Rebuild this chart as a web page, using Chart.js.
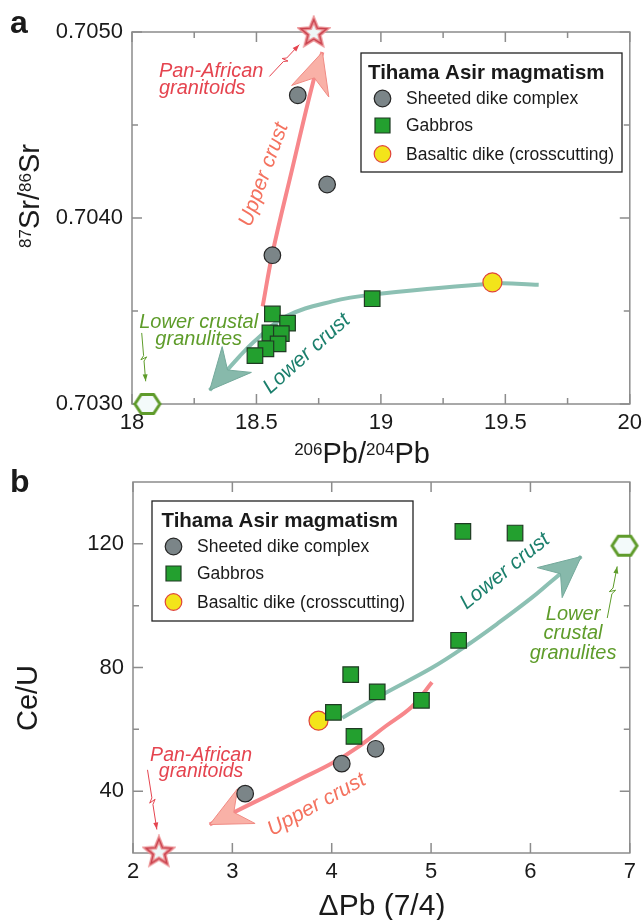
<!DOCTYPE html>
<html>
<head>
<meta charset="utf-8">
<script src="https://cdn.jsdelivr.net/npm/chart.js@4.4.1/dist/chart.umd.min.js"></script>
<style>
  html, body { margin: 0; padding: 0; background: #fff; }
  body { position: relative; width: 642px; height: 920px; overflow: hidden; }
  canvas { display: block; position: absolute; left: 0; }
  #chartA { top: 0; }
  #chartB { top: 460px; }
</style>
</head>
<body>
<canvas id="chartA" width="642" height="480"></canvas>
<canvas id="chartB" width="642" height="460"></canvas>
<script>
// ---- panel a : 87Sr/86Sr vs 206Pb/204Pb ----
var dikeA = [[18.666, 0.70466], [18.784, 0.70418], [18.564, 0.70380]]
var gabbroA = [[18.965, 0.703566], [18.564, 0.703484], [18.625, 0.703435], [18.554, 0.703382],
               [18.600, 0.703378], [18.587, 0.703323], [18.538, 0.703297], [18.494, 0.703260]]
var basaltA = [[19.448, 0.703654]]
var granitoidA = [[18.73, 0.70500]]
var granuliteA = [[18.062, 0.70300]]
var upperCrustA = [[18.525, 0.703525], [18.564, 0.703808], [18.643, 0.704260], [18.728, 0.704733], [18.765, 0.704892]]
var lowerCrustA = [[19.634, 0.703641], [19.448, 0.703647], [18.964, 0.703588], [18.805, 0.703552],
                   [18.619, 0.703471], [18.499, 0.703346], [18.432, 0.703256], [18.312, 0.703074]]
var xTicksA = [18, 18.5, 19, 19.5, 20]
var xTickLabelsA = ['18', '18.5', '19', '19.5', '20']
var xMinorA = [18.25, 18.75, 19.25, 19.75]
var yTicksA = [0.703, 0.704, 0.705]
var yTickLabelsA = ['0.7030', '0.7040', '0.7050']
var yMinorA = [0.7035, 0.7045]

// ---- panel b : Ce/U vs delta Pb (7/4) ----
var dikeB = [[3.129, 39.2], [4.101, 48.9], [4.442, 53.7]]
var gabbroB = [[5.320, 124.0], [5.845, 123.5], [5.277, 88.8], [4.191, 77.7],
               [4.458, 72.1], [4.903, 69.4], [4.017, 65.5], [4.224, 57.7]]
var basaltB = [[3.867, 62.8]]
var granitoidB = [[2.261, 20.5]]
var granuliteB = [[6.947, 119.4]]
var upperCrustB = [[5.009, 75.2], [4.809, 67.4], [4.542, 61.0], [4.275, 54.5], [4.007, 49.1],
                   [3.673, 43.7], [3.340, 38.3], [3.105, 34.6], [2.772, 29.2]]
var lowerCrustB = [[4.107, 63.7], [4.508, 71.2], [5.009, 79.9], [5.344, 86.8], [5.677, 94.4],
                   [6.011, 102.5], [6.211, 107.9], [6.512, 115.9]]
var xTicksB = [2, 3, 4, 5, 6, 7]
var xTickLabelsB = ['2', '3', '4', '5', '6', '7']
var xMinorB = []
var yTicksB = [40, 80, 120]
var yTickLabelsB = ['40', '80', '120']
var yMinorB = [60, 100]

var keyTitle = 'Tihama Asir magmatism'
var FONT = '"Liberation Sans", Arial, sans-serif'

function toXY(arr) {
  return arr.map(function(p) { return {x: p[0], y: p[1]} })
}

function labelFor(v, vals, labels) {
  for (var i = 0; i < vals.length; i++) {
    if (Math.abs(v - vals[i]) < 1e-9) return labels[i]
  }
  return ''
}

function starImage() {
  var c = document.createElement('canvas')
  c.width = 34; c.height = 34
  var g = c.getContext('2d')
  g.beginPath()
  for (var i = 0; i < 10; i++) {
    var r = i % 2 ? 6 : 13.5
    var a = -Math.PI / 2 + i * Math.PI / 5
    g.lineTo(17 + r * Math.cos(a), 18 + r * Math.sin(a))
  }
  g.closePath()
  g.fillStyle = '#eef7f7'
  g.fill()
  g.strokeStyle = '#ec9497'; g.lineWidth = 4; g.stroke()
  g.strokeStyle = '#c9424e'; g.lineWidth = 1.4; g.stroke()
  return c
}

function hexImage() {
  var c = document.createElement('canvas')
  c.width = 32; c.height = 28
  var g = c.getContext('2d')
  g.beginPath()
  for (var i = 0; i < 6; i++) {
    var a = i * Math.PI / 3
    g.lineTo(16 + 12.5 * Math.cos(a), 14 + 11 * Math.sin(a))
  }
  g.closePath()
  g.fillStyle = '#f3fafa'
  g.fill()
  g.strokeStyle = '#5f9b2b'; g.lineWidth = 3; g.stroke()
  return c
}

function pointSets(dike, gabbro, basalt, granitoid, granulite) {
  return [
    {label: 'Sheeted dike complex', inKey: true, data: toXY(dike), pointStyle: 'circle', pointRadius: 8.3,
     backgroundColor: '#7b8588', borderColor: '#262626', borderWidth: 1.2, clip: false},
    {label: 'Gabbros', inKey: true, data: toXY(gabbro), pointStyle: 'rect', pointRadius: 11,
     backgroundColor: '#23a02f', borderColor: '#1f3b23', borderWidth: 1.2, clip: false},
    {label: 'Basaltic dike (crosscutting)', inKey: true, data: toXY(basalt), pointStyle: 'circle', pointRadius: 9.5,
     backgroundColor: '#f3e41a', borderColor: '#e0443a', borderWidth: 1.2, clip: false},
    {label: 'Pan-African granitoids', data: toXY(granitoid), pointStyle: starImage(), clip: false},
    {label: 'Lower crustal granulites', data: toXY(granulite), pointStyle: hexImage(), clip: false}
  ]
}

function trendSets(upper, lower) {
  return [
    {label: 'Upper crust', data: toXY(upper), showLine: true, pointRadius: 0, borderColor: '#f7878b',
     borderWidth: 4, tension: 0.4, arrow: {fill: '#f9b1a7', stroke: '#f08a83'}, clip: false},
    {label: 'Lower crust', data: toXY(lower), showLine: true, pointRadius: 0, borderColor: '#8cc0b3',
     borderWidth: 4, tension: 0.4, arrow: {fill: '#87b9ab', stroke: '#74a99b'}, clip: false}
  ]
}

// box with ticks pointing inwards on all four sides
var framePlugin = {
  id: 'frame',
  beforeDatasetsDraw: function(chart, args, opts) {
    var ctx = chart.ctx, a = chart.chartArea
    var xs = chart.scales.x, ys = chart.scales.y
    ctx.save()
    ctx.strokeStyle = '#8c8c8c'
    ctx.lineWidth = 1.5
    ctx.strokeRect(a.left, a.top, a.right - a.left, a.bottom - a.top)
    ctx.beginPath()
    function xt(vals, len) {
      vals.forEach(function(v) {
        var p = xs.getPixelForValue(v)
        ctx.moveTo(p, a.bottom); ctx.lineTo(p, a.bottom - len)
        ctx.moveTo(p, a.top); ctx.lineTo(p, a.top + len)
      })
    }
    function yt(vals, len) {
      vals.forEach(function(v) {
        var p = ys.getPixelForValue(v)
        ctx.moveTo(a.left, p); ctx.lineTo(a.left + len, p)
        ctx.moveTo(a.right, p); ctx.lineTo(a.right - len, p)
      })
    }
    xt(opts.xMajor, 10); xt(opts.xMinor, 6)
    yt(opts.yMajor, 10); yt(opts.yMinor, 6)
    ctx.stroke()
    ctx.restore()
  }
}

// swept arrow head at the last point of a trend line
var arrowPlugin = {
  id: 'arrowHead',
  afterDatasetDraw: function(chart, args) {
    var ds = chart.data.datasets[args.index]
    if (!ds.arrow) return
    var pts = args.meta.data, n = pts.length
    var tip = pts[n - 1], prev = pts[n - 2]
    var dx = tip.x - prev.x, dy = tip.y - prev.y, len = Math.hypot(dx, dy)
    var ux = dx / len, uy = dy / len, nx = -uy, ny = ux
    var L = 41, W = 19.5, N = 27
    var ctx = chart.ctx
    ctx.save()
    ctx.beginPath()
    ctx.moveTo(tip.x, tip.y)
    ctx.lineTo(tip.x - L * ux + W * nx, tip.y - L * uy + W * ny)
    ctx.lineTo(tip.x - N * ux, tip.y - N * uy)
    ctx.lineTo(tip.x - L * ux - W * nx, tip.y - L * uy - W * ny)
    ctx.closePath()
    ctx.fillStyle = ds.arrow.fill
    ctx.fill()
    ctx.strokeStyle = ds.arrow.stroke
    ctx.lineWidth = 1
    ctx.stroke()
    ctx.restore()
  }
}

function richText(ctx, parts, x, y, angle, size, supSize) {
  ctx.save()
  ctx.translate(x, y)
  ctx.rotate(angle)
  var w = 0
  parts.forEach(function(p) {
    ctx.font = (p.sup ? supSize : size) + 'px ' + FONT
    p.w = ctx.measureText(p.t).width
    w += p.w
  })
  var cx = -w / 2
  ctx.textAlign = 'left'
  ctx.textBaseline = 'alphabetic'
  ctx.fillStyle = '#1a1a1a'
  parts.forEach(function(p) {
    ctx.font = (p.sup ? supSize : size) + 'px ' + FONT
    ctx.fillText(p.t, cx, p.sup ? -8.5 : 0)
    cx += p.w
  })
  ctx.restore()
}

function bolt(ctx, x1, y1, x2, y2, color) {
  var dx = x2 - x1, dy = y2 - y1, len = Math.hypot(dx, dy)
  var ux = dx / len, uy = dy / len, nx = -uy, ny = ux
  function at(t, off) { return [x1 + dx * t + nx * off, y1 + dy * t + ny * off] }
  var pts = [at(0, 0), at(0.47, 0), at(0.55, 3), at(0.5, -3), at(0.58, 0), at(1, 0)]
  ctx.save()
  ctx.strokeStyle = color
  ctx.fillStyle = color
  ctx.lineWidth = 1
  ctx.beginPath()
  pts.forEach(function(p, i) { if (i) ctx.lineTo(p[0], p[1]); else ctx.moveTo(p[0], p[1]) })
  ctx.stroke()
  ctx.beginPath()
  ctx.moveTo(x2, y2)
  ctx.lineTo(x2 - 7 * ux + 2.5 * nx, y2 - 7 * uy + 2.5 * ny)
  ctx.lineTo(x2 - 7 * ux - 2.5 * nx, y2 - 7 * uy - 2.5 * ny)
  ctx.closePath()
  ctx.fill()
  ctx.restore()
}

function drawKey(chart, box) {
  var ctx = chart.ctx
  ctx.save()
  ctx.fillStyle = '#fff'
  ctx.fillRect(box.x, box.y, box.w, box.h)
  ctx.strokeStyle = '#222'
  ctx.lineWidth = 1.3
  ctx.strokeRect(box.x, box.y, box.w, box.h)
  ctx.fillStyle = '#1a1a1a'
  ctx.font = 'bold 20.5px ' + FONT
  ctx.textAlign = 'left'
  ctx.textBaseline = 'alphabetic'
  ctx.fillText(keyTitle, box.x + box.titleDx, box.y + 25.5)
  var rows = [45.5, 72.5, 101]
  chart.data.datasets.filter(function(d) { return d.inKey }).forEach(function(ds, i) {
    var cy = box.y + rows[i], cx = box.x + 21.5
    ctx.fillStyle = ds.backgroundColor
    ctx.strokeStyle = ds.borderColor
    ctx.lineWidth = ds.borderWidth
    ctx.beginPath()
    if (ds.pointStyle === 'rect') ctx.rect(cx - 7.5, cy - 7.5, 15, 15)
    else ctx.arc(cx, cy, 8.3, 0, Math.PI * 2)
    ctx.fill()
    ctx.stroke()
    ctx.fillStyle = '#1a1a1a'
    ctx.font = '17.5px ' + FONT
    ctx.textBaseline = 'middle'
    ctx.fillText(ds.label, box.x + 45, cy + 1)
  })
  ctx.restore()
}

// titles, panel letter, legend box, labels and leader arrows
var notesPlugin = {
  id: 'notes',
  afterDatasetsDraw: function(chart, args, o) {
    var ctx = chart.ctx, xs = chart.scales.x, ys = chart.scales.y
    drawKey(chart, o.key)
    o.texts.forEach(function(t) {
      var px = xs.getPixelForValue(t.at[0]), py = ys.getPixelForValue(t.at[1])
      var lh = t.lh || 0
      ctx.save()
      ctx.translate(px, py)
      ctx.rotate((t.rot || 0) * Math.PI / 180)
      ctx.fillStyle = t.color
      ctx.font = 'italic ' + t.size + 'px ' + FONT
      ctx.textAlign = t.align || 'center'
      ctx.textBaseline = t.rot ? 'middle' : 'alphabetic'
      t.lines.forEach(function(s, i) { ctx.fillText(s, 0, i * lh) })
      ctx.restore()
    })
    o.bolts.forEach(function(b) {
      bolt(ctx, xs.getPixelForValue(b.from[0]), ys.getPixelForValue(b.from[1]),
           xs.getPixelForValue(b.to[0]), ys.getPixelForValue(b.to[1]), b.color)
    })
    ctx.save()
    ctx.fillStyle = '#1a1a1a'
    ctx.font = 'bold 32px ' + FONT
    ctx.textAlign = 'left'
    ctx.fillText(o.letter, 10, o.letterY)
    ctx.restore()
    richText(ctx, o.xTitle.parts, o.xTitle.x, o.xTitle.y, 0, o.xTitle.size, 17)
    richText(ctx, o.yTitle.parts, o.yTitle.x, o.yTitle.y, -Math.PI / 2, o.yTitle.size, 17)
  }
}

function axes(xmin, xmax, xv, xl, ymin, ymax, yv, yl, yWidth, xHeight) {
  var tickFont = {family: FONT, size: 22}
  return {
    x: {
      type: 'linear', min: xmin, max: xmax,
      grid: {display: false, drawTicks: false}, border: {display: false},
      afterBuildTicks: function(s) { s.ticks = xv.map(function(v) { return {value: v} }) },
      ticks: {padding: 6, color: '#1a1a1a', font: tickFont, maxRotation: 0, autoSkip: false,
              callback: function(v) { return labelFor(v, xv, xl) }},
      afterFit: function(s) { s.height = xHeight; s.paddingLeft = 0; s.paddingRight = 0 }
    },
    y: {
      type: 'linear', min: ymin, max: ymax,
      grid: {display: false, drawTicks: false}, border: {display: false},
      afterBuildTicks: function(s) { s.ticks = yv.map(function(v) { return {value: v} }) },
      ticks: {padding: 9, color: '#1a1a1a', font: tickFont, autoSkip: false,
              callback: function(v) { return labelFor(v, yv, yl) }},
      afterFit: function(s) { s.width = yWidth; s.paddingTop = 0; s.paddingBottom = 0 }
    }
  }
}

var red = '#e5444f', salmon = '#f4725f', teal = '#1b7f6c', green = '#5e9c2a'

new Chart(document.getElementById('chartA'), {
  type: 'scatter',
  data: {datasets: pointSets(dikeA, gabbroA, basaltA, granitoidA, granuliteA).concat(trendSets(upperCrustA, lowerCrustA))},
  options: {
    responsive: false, animation: false, devicePixelRatio: 1, events: [],
    layout: {padding: {left: 0, right: 10, top: 32, bottom: 0}},
    scales: axes(18, 20, xTicksA, xTickLabelsA, 0.703, 0.705, yTicksA, yTickLabelsA, 132, 76),
    plugins: {
      legend: {display: false}, tooltip: {enabled: false},
      frame: {xMajor: xTicksA, xMinor: xMinorA, yMajor: yTicksA, yMinor: yMinorA},
      notes: {
        letter: 'a', letterY: 33,
        key: {x: 361, y: 53, w: 261, h: 119, titleDx: 7},
        xTitle: {x: 362, y: 463, size: 29, parts: [{t: '206', sup: true}, {t: 'Pb/'}, {t: '204', sup: true}, {t: 'Pb'}]},
        yTitle: {x: 39, y: 196, size: 29, parts: [{t: '87', sup: true}, {t: 'Sr/'}, {t: '86', sup: true}, {t: 'Sr'}]},
        texts: [
          {lines: ['Pan-African', 'granitoids'], at: [18.108, 0.704758], align: 'left', size: 20, lh: 16.5, color: red},
          {lines: ['Upper crust'], at: [18.53, 0.704233], rot: -70, size: 21, color: salmon},
          {lines: ['Lower crust'], at: [18.702, 0.703270], rot: -42, size: 21, color: teal},
          {lines: ['Lower crustal', 'granulites'], at: [18.268, 0.703409], size: 20, lh: 17, color: green}
        ],
        bolts: [
          {from: [18.552, 0.704761], to: [18.672, 0.704932], color: red},
          {from: [18.039, 0.703382], to: [18.055, 0.703122], color: green}
        ]
      }
    }
  },
  plugins: [framePlugin, arrowPlugin, notesPlugin]
})

new Chart(document.getElementById('chartB'), {
  type: 'scatter',
  data: {datasets: pointSets(dikeB, gabbroB, basaltB, granitoidB, granuliteB).concat(trendSets(upperCrustB, lowerCrustB))},
  options: {
    responsive: false, animation: false, devicePixelRatio: 1, events: [],
    layout: {padding: {left: 0, right: 10, top: 22, bottom: 0}},
    scales: axes(2, 7, xTicksB, xTickLabelsB, 20, 140, yTicksB, yTickLabelsB, 133, 67),
    plugins: {
      legend: {display: false}, tooltip: {enabled: false},
      frame: {xMajor: xTicksB, xMinor: xMinorB, yMajor: yTicksB, yMinor: yMinorB},
      notes: {
        letter: 'b', letterY: 32,
        key: {x: 152, y: 41, w: 261, h: 120, titleDx: 9.5},
        xTitle: {x: 382, y: 455, size: 30, parts: [{t: '\u0394Pb (7/4)'}]},
        yTitle: {x: 37, y: 238, size: 29, parts: [{t: 'Ce/U'}]},
        texts: [
          {lines: ['Pan-African', 'granitoids'], at: [2.685, 49.6], size: 19.5, lh: 16, color: red},
          {lines: ['Upper crust'], at: [3.849, 35.6], rot: -29, size: 21, color: salmon},
          {lines: ['Lower crust'], at: [5.744, 111.1], rot: -39, size: 21, color: teal},
          {lines: ['Lower', 'crustal', 'granulites'], at: [6.429, 95.5], size: 20, lh: 19.5, color: green}
        ],
        bolts: [
          {from: [2.146, 46.9], to: [2.240, 27.6], color: red},
          {from: [6.773, 96.0], to: [6.873, 112.7], color: green}
        ]
      }
    }
  },
  plugins: [framePlugin, arrowPlugin, notesPlugin]
})
</script>
</body>
</html>
